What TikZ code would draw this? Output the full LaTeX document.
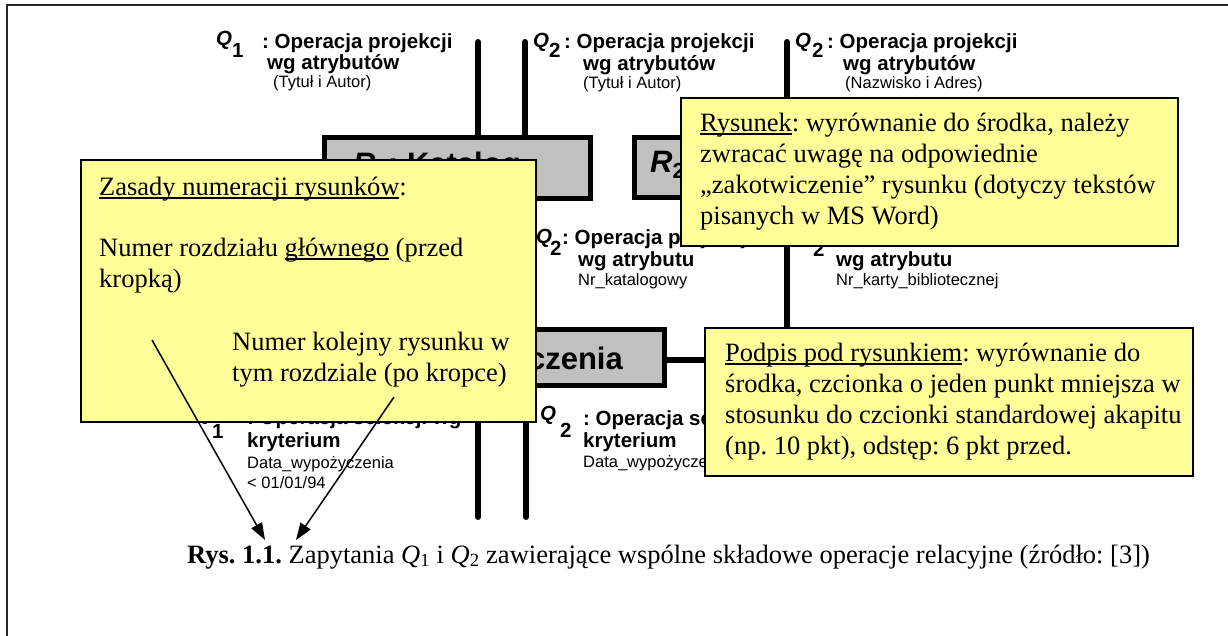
\documentclass[tikz,border=0pt]{standalone}
\usepackage{fontspec}
\setmainfont{Liberation Serif}
\newfontfamily\arialf{Liberation Sans}
\usetikzlibrary{arrows.meta}
\definecolor{noteyellow}{HTML}{FFFF99}
\definecolor{boxgray}{HTML}{C0C0C0}
\newcommand{\ulin}[1]{\setbox0\hbox{#1}\rlap{\rule[-3.5pt]{\wd0}{1.3pt}}\box0\relax}
\frenchspacing
\begin{document}
\frenchspacing
\begin{tikzpicture}[x=1pt,y=-1pt,
  thickline/.style={line width=6pt, line cap=round},
  relbox/.style={draw, line width=5pt, fill=boxgray, inner sep=0pt},
  relname/.style={anchor=base west, inner sep=0pt, font=\arialf\bfseries\fontsize{31}{33}\selectfont},
  qb/.style={anchor=base west, inner sep=0pt, font=\arialf\bfseries\itshape\fontsize{20.5}{22}\selectfont},
  lb/.style={anchor=base west, inner sep=0pt, font=\arialf\bfseries\fontsize{20.5}{22}\selectfont},
  ls/.style={anchor=base west, inner sep=0pt, font=\arialf\fontsize{16.5}{18}\selectfont},
  note/.style={draw=black, line width=1.5pt, fill=noteyellow, inner sep=0pt, anchor=north west},
  nt/.style={anchor=base west, inner sep=0pt, font=\frenchspacing\fontsize{26.5}{31}\selectfont},
  arr/.style={line width=1.5pt, -{Triangle[length=17pt,width=12pt]}}]
\useasboundingbox (0,0) rectangle (1228,635);
% frame
\coordinate (fbl) at (7,640);
\coordinate (ftl) at (7,5);
\coordinate (ftr) at (1240,5);
\draw[line width=2pt, black!85] (fbl) -- (ftl) -- (ftr);

% relation boxes
\node[relbox, minimum width=266pt, minimum height=61pt] (kat) at (457.5,168) {};
\node[relbox, minimum width=268pt, minimum height=60pt] (r2) at (768.5,167.5) {};
\node[relbox, minimum width=362pt, minimum height=56pt] (join) at (483.5,357.5) {};
\node[relname] (katt) at (353,174) {\textit{R}\textsubscript{1}: Katalog};
\node[relname] (r2t) at (650,172) {\textit{R}\textsubscript{2}};
\node[relname, anchor=base east] (joint) at (623,369) {\textit{R}\textsubscript{3}: Wypożyczenia};

% connectors
\coordinate (a0) at (478,42);
\coordinate (b0) at (525,42);
\coordinate (c0) at (787,42);
\coordinate (cb) at (787,360);
\coordinate (d0) at (478,517);
\coordinate (e0) at (526,517);
\draw[thickline] (a0) -- (a0 |- kat.north);
\draw[thickline] (b0) -- (b0 |- kat.north);
\draw[thickline] (c0) -- (c0 |- r2.north);
\draw[thickline] (r2.south -| c0) -- (cb) -- (cb -| join.east);
\draw[thickline] (join.south -| d0) -- (d0);
\draw[thickline] (join.south -| e0) -- (e0);
\draw[thickline] (kat.south -| b0) -- (join.north -| b0);

% top labels
\node[qb] (q1a) at (216,45) {Q};
\node[lb] (q1an) at (232,57) {1};
\node[lb] (q1a1) at (262,48) {: Operacja projekcji};
\node[lb] (q1a2) at (267,69) {wg atrybutów};
\node[ls] (q1a3) at (273,87) {(Tytuł i Autor)};

\node[qb] (q2a) at (533,47) {Q};
\node[lb] (q2an) at (549,57) {2};
\node[lb] (q2a1) at (564,48) {: Operacja projekcji};
\node[lb] (q2a2) at (583,70) {wg atrybutów};
\node[ls] (q2a3) at (583,88) {(Tytuł i Autor)};

\node[qb] (q2b) at (795,47) {Q};
\node[lb] (q2bn) at (812,57) {2};
\node[lb] (q2b1) at (827,48) {: Operacja projekcji};
\node[lb] (q2b2) at (843,70) {wg atrybutów};
\node[ls] (q2b3) at (845,88) {(Nazwisko i Adres)};

% middle labels
\node[qb] (q2c) at (536,243) {Q};
\node[lb] (q2cn) at (550,255) {2};
\node[lb] (q2c1) at (562,244) {: Operacja projekcji};
\node[lb] (q2c2) at (578,266) {wg atrybutu};
\node[ls] (q2c3) at (578,285) {Nr\_katalogowy};

\node[qb] (q2d) at (797,240) {Q};
\node[lb] (q2dn) at (813,256) {2};
\node[lb] (q2d1) at (827,241) {: Operacja projekcji};
\node[lb] (q2d2) at (836,266) {wg atrybutu};
\node[ls] (q2d3) at (836,285) {Nr\_karty\_bibliotecznej};

% bottom labels
\node[qb] (q1e) at (195,420) {Q};
\node[lb] (q1en) at (212,438) {1};
\node[lb] (q1e1) at (247,424) {: Operacja selekcji wg};
\node[lb] (q1e2) at (247,447) {kryterium};
\node[ls] (q1e3) at (247,468) {Data\_wypożyczenia};
\node[ls] (q1e4) at (247,488) {< 01/01/94};

\node[qb] (q2f) at (540,420) {Q};
\node[lb] (q2fn) at (560,437) {2};
\node[lb] (q2f1) at (583,425) {: Operacja selekcji wg};
\node[lb] (q2f2) at (583,447) {kryterium};
\node[ls] (q2f3) at (583,467) {Data\_wypożyczenia};

% notes
\node[note, minimum width=455pt, minimum height=262pt] (zas) at (80,159) {};
\node[nt] (zas1) at (99,195) {\ulin{Zasady numeracji rysunków}:};
\node[nt] (zas2) at (99,256) {Numer rozdziału \ulin{głównego} (przed};
\node[nt] (zas3) at (99,287) {kropką)};
\node[nt] (zas4) at (232,350) {Numer kolejny rysunku w};
\node[nt] (zas5) at (232,381) {tym rozdziale (po kropce)};

\node[note, minimum width=497pt, minimum height=148pt] (rys) at (680,97) {};
\node[nt] (rys1) at (700,131) {\ulin{Rysunek}: wyrównanie do środka, należy};
\node[nt] (rys2) at (700,162) {zwracać uwagę na odpowiednie};
\node[nt] (rys3) at (700,193) {„zakotwiczenie” rysunku (dotyczy tekstów};
\node[nt] (rys4) at (700,224) {pisanych w MS Word)};

\node[note, minimum width=488pt, minimum height=148pt] (pod) at (704,327) {};
\node[nt] (pod1) at (725,361) {\ulin{Podpis pod rysunkiem}: wyrównanie do};
\node[nt] (pod2) at (725,392) {środka, czcionka o jeden punkt mniejsza w};
\node[nt] (pod3) at (725,423) {stosunku do czcionki standardowej akapitu};
\node[nt] (pod4) at (725,454) {(np. 10 pkt), odstęp: 6 pkt przed.};

% arrows
\coordinate (s1) at (152,340);
\coordinate (t1) at (265,540);
\coordinate (s2) at (394,397);
\coordinate (t2) at (296,540);
\draw[arr] (s1) -- (t1);
\draw[arr] (s2) -- (t2);

% caption
\node[nt] (cap) at (187,563) {\textbf{Rys. 1.1.} Zapytania \textit{Q}\textsubscript{1} i \textit{Q}\textsubscript{2} zawierające wspólne składowe operacje relacyjne (źródło: [3])};
\end{tikzpicture}
\end{document}
